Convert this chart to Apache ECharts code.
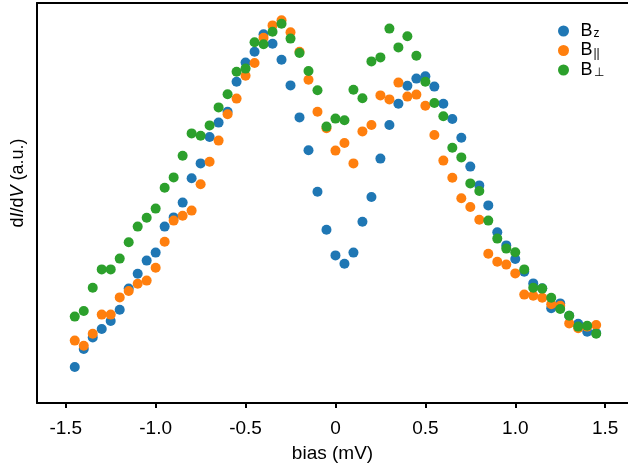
<!DOCTYPE html>
<html>
<head>
<meta charset="utf-8">
<script src="https://cdn.jsdelivr.net/npm/echarts@6/dist/echarts.min.js"></script>
<style>
html,body{margin:0;padding:0;background:#fff;}
#chart{width:628px;height:470px;}
</style>
</head>
<body>
<div id="chart"></div>
<script>
// bias values (mV)
var bias = [-1.45,-1.40,-1.35,-1.30,-1.25,-1.20,-1.15,-1.10,-1.05,-1.00,
            -0.95,-0.90,-0.85,-0.80,-0.75,-0.70,-0.65,-0.60,-0.55,-0.50,
            -0.45,-0.40,-0.35,-0.30,-0.25,-0.20,-0.15,-0.10,-0.05,0.00,
            0.05,0.10,0.15,0.20,0.25,0.30,0.35,0.40,0.45,0.50,
            0.55,0.60,0.65,0.70,0.75,0.80,0.85,0.90,0.95,1.00,
            1.05,1.10,1.15,1.20,1.25,1.30,1.35,1.40,1.45];

// dI/dV (a.u.)
var Bz = [9.0,13.5,16.4,18.5,20.5,23.3,28.6,32.3,35.6,37.6,
          44.1,46.4,50.1,56.2,59.9,66.5,70.1,72.8,80.3,85.1,
          87.8,92.2,89.8,85.8,79.4,71.4,63.2,52.8,43.3,36.9,
          34.8,37.6,45.3,51.5,61.1,69.5,74.8,79.3,81.1,81.7,
          79.1,74.8,71.0,66.3,59.1,54.4,49.4,42.7,39.4,36.0,
          32.8,29.9,28.7,23.7,24.9,21.8,19.8,17.8,17.5];

var Bpar = [15.6,14.3,17.3,22.1,22.1,26.4,28.0,29.8,30.6,33.8,
            40.3,45.6,46.8,48.1,54.7,60.3,65.6,72.2,76.1,81.8,
            85.0,91.3,94.4,95.7,92.7,87.8,80.8,72.8,68.7,63.1,
            65.0,59.9,67.9,69.5,76.9,75.9,80.1,76.6,77.1,74.3,
            67.0,60.6,56.3,51.2,49.0,45.8,37.3,35.3,34.6,32.4,
            27.1,26.8,26.3,24.7,24.3,19.9,18.7,19.1,19.5];

var Bperp = [21.6,23.0,28.8,33.4,33.4,36.1,40.2,44.1,46.3,48.6,
             53.8,56.4,61.8,67.4,66.8,69.4,73.9,77.2,82.8,83.6,
             90.2,89.7,92.8,94.8,91.1,87.5,83.0,78.2,69.1,71.1,
             70.7,78.3,76.2,85.4,86.4,93.6,88.9,91.7,86.8,80.3,
             75.0,71.7,63.8,61.4,54.9,53.0,45.6,41.1,38.6,37.7,
             33.4,28.8,28.6,26.3,23.5,21.8,19.1,19.3,17.3];

var xTicks = [-1.5,-1.0,-0.5,0,0.5,1.0,1.5];
var seriesNames = ['Bz','Bpar','Bperp'];
var legendLabels = {Bz:'{b|B}{s|z}', Bpar:'{b|B}{s|||}', Bperp:'{b|B}{s|\u22A5}'};
var colors = ['#1f77b4','#ff7f0e','#2ca02c'];

var FONT = "'Liberation Sans', Arial, sans-serif";

function pairs(ys){ return bias.map(function(x,i){ return [x, ys[i]]; }); }

var chart = echarts.init(document.getElementById('chart'), null, {renderer:'canvas'});
var allData = [Bz, Bpar, Bperp];
var lineStyle = {color:'#000', width:2};
chart.setOption({
  animation:false,
  backgroundColor:'#fff',
  color: colors,
  grid:{left:37, top:3, bottom:67, right:0},
  xAxis:[{
    type:'value', min:-1.66, max:1.627, position:'bottom',
    name:'bias (mV)', nameLocation:'middle', nameGap:41,
    nameTextStyle:{fontFamily:FONT, fontSize:19, color:'#000'},
    axisLine:{show:true, onZero:false, lineStyle:lineStyle},
    splitLine:{show:false},
    axisTick:{show:true, customValues:xTicks, length:5, lineStyle:lineStyle},
    axisLabel:{show:true, customValues:xTicks, margin:16, fontFamily:FONT, fontSize:19, color:'#000',
      formatter:function(v){ return v===0 ? '0' : v.toFixed(1); }}
  },{
    type:'value', min:-1.66, max:1.627, position:'top',
    axisLine:{show:true, onZero:false, lineStyle:lineStyle},
    axisTick:{show:false}, axisLabel:{show:false}, splitLine:{show:false}
  }],
  yAxis:{
    type:'value', min:0, max:100,
    axisLine:{show:true, onZero:false, lineStyle:lineStyle},
    axisTick:{show:false}, axisLabel:{show:false}, splitLine:{show:false}
  },
  legend:{
    orient:'vertical', left:553, top:16, itemGap:0.5,
    icon:'circle', itemWidth:24, itemHeight:11,
    data:seriesNames,
    formatter:function(n){ return legendLabels[n]; },
    textStyle:{fontFamily:FONT, color:'#000',
      rich:{
        b:{fontSize:18, lineHeight:18, verticalAlign:'top', fontFamily:FONT, color:'#000'},
        s:{fontSize:12, lineHeight:12, verticalAlign:'bottom', padding:[7,0,0,1], fontFamily:FONT, color:'#000'}
      }}
  },
  graphic:[{
    type:'text', x:18, y:183, rotation:Math.PI/2,
    style:{
      text:'{n|d}{i|I}{n|/d}{i|V}{n| (a.u.)}',
      align:'center', verticalAlign:'middle',
      rich:{
        n:{fontSize:18, fontFamily:FONT, fill:'#000'},
        i:{fontSize:18, fontFamily:FONT, fontStyle:'italic', fill:'#000'}
      }
    }
  }],
  series: seriesNames.map(function(n,k){
    return {name:n, type:'scatter', symbol:'circle', symbolSize:10, xAxisIndex:0,
      itemStyle:{color:colors[k], opacity:1}, data:pairs(allData[k]), z:2+k};
  })
});
</script>
</body>
</html>
